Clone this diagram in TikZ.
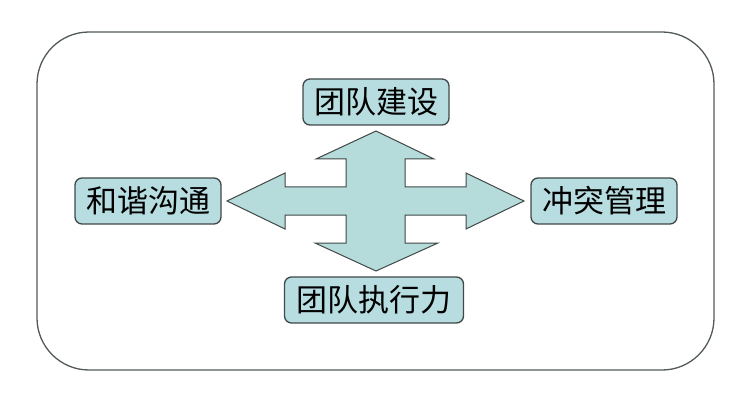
\documentclass[tikz,border=0pt]{standalone}
\usepackage{fontspec}
\newfontfamily\cjk{Noto Sans CJK SC}
\usepackage{tikz}
\usetikzlibrary{positioning}
\definecolor{boxfill}{RGB}{183,221,224}
\definecolor{arrowfill}{RGB}{181,219,219}
\definecolor{edgegray}{RGB}{64,72,72}
\tikzset{
	topic/.style={draw=edgegray, fill=boxfill, line width=1.3pt, rounded corners=7pt,
		inner sep=0pt, minimum height=46pt, font=\cjk\fontsize{31}{31}\selectfont},
	frame/.style={draw=edgegray!90, line width=1.3pt, rounded corners=52pt},
	cross/.style={draw=edgegray, fill=arrowfill, line width=1pt, line join=miter},
}
\begin{document}
\begin{tikzpicture}[x=1pt, y=-1pt]
	\useasboundingbox (0,0) rectangle (750,401);
	\draw[frame] (37,32) rectangle (714,370);
	% four-way arrow
	\draw[cross] (376,131) -- (434,159) -- (405,159) -- (405,187) -- (466,187)
		-- (466,173) -- (524,201) -- (466,229) -- (466,215) -- (405,215)
		-- (405,243) -- (438,243) -- (376,271) -- (315,243) -- (346,243)
		-- (346,215) -- (285,215) -- (285,229) -- (227,201) -- (285,173)
		-- (285,187) -- (346,187) -- (346,159) -- (316,159) -- cycle;
	\node[topic, minimum width=146pt] (build) at (376,102) {团队建设};
	\node[topic, minimum width=146pt] (talk) at (148,201) {和谐沟通};
	\node[topic, minimum width=146pt] (conflict) at (604,201) {冲突管理};
	\node[topic, minimum width=179pt] (exec) at (374,300) {团队执行力};
\end{tikzpicture}
\end{document}
